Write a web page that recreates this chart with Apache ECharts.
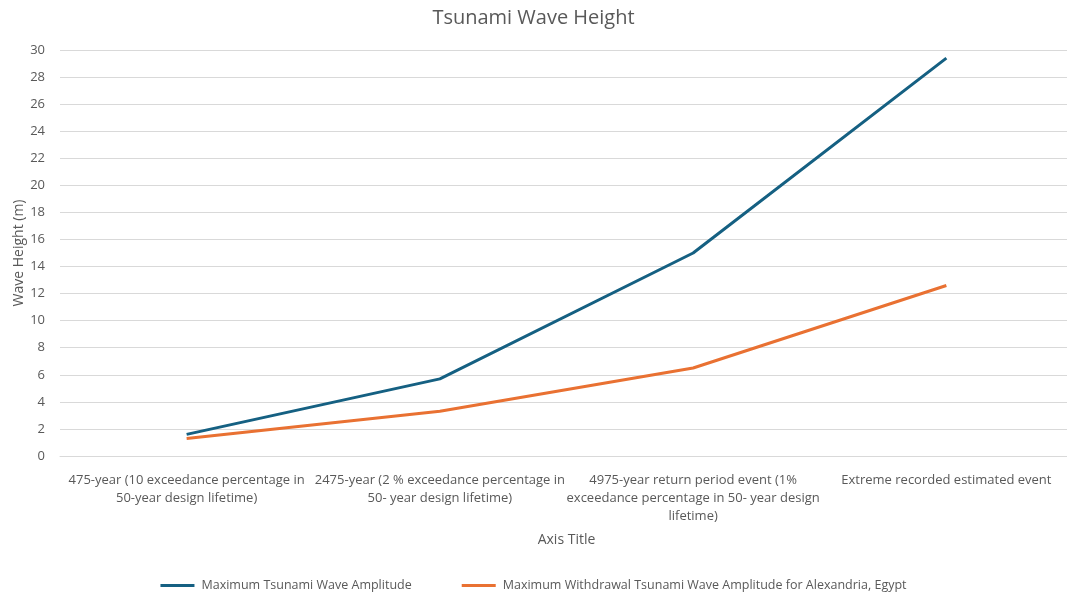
<!DOCTYPE html>
<html>
<head>
<meta charset="utf-8">
<script src="https://cdn.jsdelivr.net/npm/echarts@6/dist/echarts.min.js"></script>
<style>
  html, body { margin: 0; padding: 0; background: #fff; }
  #chart { width: 1067px; height: 594px; }
</style>
</head>
<body>
<div id="chart"></div>
<script>
// Return-period scenarios (line breaks mark where the axis labels wrap)
const categories = [
  '475-year (10 exceedance percentage in\n50-year design lifetime)',
  '2475-year (2 % exceedance percentage in\n50- year design lifetime)',
  '4975-year return period event (1%\nexceedance percentage in 50- year design\nlifetime)',
  'Extreme recorded estimated event'
];
const seriesNames = [
  'Maximum Tsunami Wave Amplitude',
  'Maximum Withdrawal Tsunami Wave Amplitude for Alexandria, Egypt'
];
// Wave heights in metres
const maxAmplitude = [1.6, 5.7, 15.0, 29.4];
const maxWithdrawal = [1.3, 3.3, 6.5, 12.6];

const FONT = '"Open Sans", sans-serif';
const GREY = '#595959';

const chart = echarts.init(document.getElementById('chart'), null, { renderer: 'canvas' });
chart.setOption({
  animation: false,
  backgroundColor: '#ffffff',
  title: {
    text: 'Tsunami Wave Height',
    left: 'center',
    top: 3,
    textStyle: { fontFamily: FONT, fontSize: 20, fontWeight: 'normal', color: GREY }
  },
  legend: {
    top: 574,
    left: 'center',
    itemWidth: 34,
    itemHeight: 3,
    itemGap: 50,
    icon: 'rect',
    textStyle: { fontFamily: FONT, fontSize: 12.5, color: GREY, padding: [0, 0, 0, 2] },
    data: seriesNames
  },
  grid: {
    left: 60,
    width: 1013,
    top: 50,
    height: 406,
    containLabel: false,
    outerBoundsMode: 'none'
  },
  xAxis: {
    type: 'category',
    data: categories,
    boundaryGap: true,
    name: 'Axis Title',
    nameLocation: 'middle',
    nameGap: 77,
    nameMoveOverlap: false,
    nameTextStyle: { fontFamily: FONT, fontSize: 14, color: GREY },
    axisLine: { show: true, lineStyle: { color: '#d9d9d9' } },
    axisTick: { show: false },
    axisLabel: {
      interval: 0,
      margin: 15,
      lineHeight: 18,
      fontFamily: FONT,
      fontSize: 13,
      color: GREY,
      align: 'center'
    }
  },
  yAxis: {
    type: 'value',
    min: 0,
    max: 30,
    interval: 2,
    name: 'Wave Height (m)',
    nameLocation: 'middle',
    nameGap: 34,
    nameMoveOverlap: false,
    nameTextStyle: { fontFamily: FONT, fontSize: 14, color: GREY },
    axisLine: { show: false },
    axisTick: { show: false },
    axisLabel: { fontFamily: FONT, fontSize: 13, color: GREY, margin: 15 },
    splitLine: { lineStyle: { color: '#d9d9d9', width: 1 } }
  },
  series: [
    {
      name: seriesNames[0],
      type: 'line',
      data: maxAmplitude,
      symbol: 'none',
      lineStyle: { width: 3, color: '#156082' },
      itemStyle: { color: '#156082' }
    },
    {
      name: seriesNames[1],
      type: 'line',
      data: maxWithdrawal,
      symbol: 'none',
      lineStyle: { width: 3, color: '#E97132' },
      itemStyle: { color: '#E97132' }
    }
  ]
});
</script>
</body>
</html>
